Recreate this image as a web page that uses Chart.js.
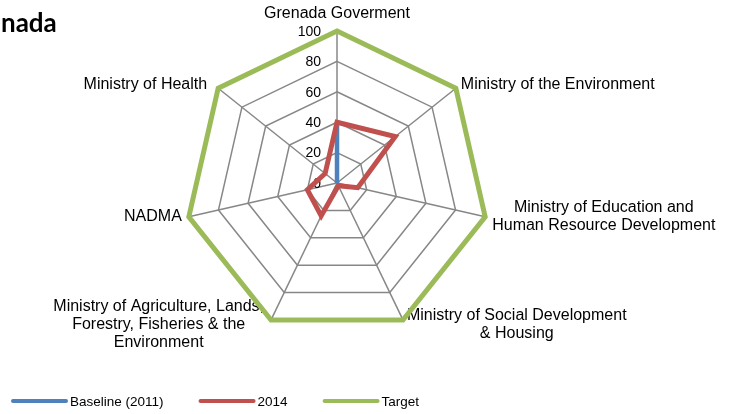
<!DOCTYPE html>
<html>
<head>
<meta charset="utf-8">
<script src="https://cdn.jsdelivr.net/npm/chart.js@4"></script>
<style>
    body { margin: 0; background: #fff; }
    #wrap { width: 732px; height: 414px; position: relative; }
</style>
</head>
<body>
<div id="wrap"><canvas id="radarChart"></canvas></div>
<script>
const categories = [
    'Grenada Goverment',
    'Ministry of the Environment',
    ['Ministry of Education and', 'Human Resource Development'],
    ['Ministry of Social Development', '& Housing'],
    ['Ministry of Agriculture, Lands,', 'Forestry, Fisheries & the', 'Environment'],
    'NADMA',
    'Ministry of Health'
];
const baseline2011 = [40, 0, 0, 0, 0, 0, 0];
const values2014 = [40, 49, 14, 2, 24, 20, 10];
const target = [100, 100, 100, 100, 100, 100, 100];
const tickValues = [0, 20, 40, 60, 80, 100];

// where each category label sits relative to its outer vertex
const labelPlacement = [
    { align: 'center', dx: 0, dy: -17 },
    { align: 'left', dx: 5, dy: -4 },
    { align: 'left', dx: 7, dy: 0 },
    { align: 'left', dx: 4, dy: 5 },
    { align: 'right', dx: -7, dy: 5 },
    { align: 'right', dx: -7, dy: 0 },
    { align: 'right', dx: -11, dy: -4 }
];

const labelFont = '16px "Liberation Sans", Arial, sans-serif';

const radarText = {
    id: 'radarText',
    beforeDatasetsDraw(chart) {
        const ctx = chart.ctx;
        const scale = chart.scales.r;
        ctx.save();
        ctx.fillStyle = '#000';
        ctx.textBaseline = 'middle';

        // category labels
        ctx.font = labelFont;
        ctx.textAlign = 'center';
        categories.forEach((label, i) => {
            const lines = Array.isArray(label) ? label : [label];
            const pos = scale.getPointPosition(i, scale.drawingArea);
            const place = labelPlacement[i];
            const w = Math.max(...lines.map(l => ctx.measureText(l).width));
            let cx = pos.x + place.dx;
            if (place.align === 'left') cx += w / 2;
            if (place.align === 'right') cx -= w / 2;
            const cy = pos.y + place.dy;
            lines.forEach((line, k) => {
                ctx.fillText(line, cx, cy + (k - (lines.length - 1) / 2) * 18);
            });
        });

        // tick labels left of the top axis
        ctx.font = '14px "Liberation Sans", Arial, sans-serif';
        ctx.textAlign = 'right';
        tickValues.forEach(v => {
            const y = scale.yCenter - scale.getDistanceFromCenterForValue(v);
            ctx.fillText(String(v), scale.xCenter - 16, y + 1);
        });
        ctx.restore();
    },
    afterDraw(chart) {
        const ctx = chart.ctx;
        ctx.save();
        // clipped title, only the end shows
        ctx.font = 'bold 26px Lato, "Open Sans", sans-serif';
        ctx.fillStyle = '#000';
        ctx.textAlign = 'right';
        ctx.textBaseline = 'alphabetic';
        ctx.fillText('Grenada', ctx.measureText('nada').width + 1, 32);

        // legend
        ctx.font = '13.5px "Liberation Sans", Arial, sans-serif';
        ctx.textAlign = 'left';
        ctx.textBaseline = 'middle';
        let x = 13;
        const y = 401;
        chart.data.datasets.forEach(ds => {
            ctx.strokeStyle = ds.borderColor;
            ctx.lineWidth = 4;
            ctx.lineCap = 'round';
            ctx.beginPath();
            ctx.moveTo(x, y);
            ctx.lineTo(x + 53, y);
            ctx.stroke();
            ctx.fillStyle = '#000';
            ctx.fillText(ds.label, x + 57, y + 1);
            x += 57 + ctx.measureText(ds.label).width + 37;
        });
        ctx.restore();
    }
};

const ctx = document.getElementById('radarChart').getContext('2d');
new Chart(ctx, {
    type: 'radar',
    data: {
        labels: categories,
        datasets: [
            {
                label: 'Baseline (2011)',
                data: baseline2011,
                borderColor: '#4F81BD',
                borderWidth: 4.5,
                pointRadius: 0,
                fill: false,
                order: 2
            },
            {
                label: '2014',
                data: values2014,
                borderColor: '#C0504D',
                borderWidth: 5,
                pointRadius: 0,
                fill: false,
                order: 1
            },
            {
                label: 'Target',
                data: target,
                borderColor: '#9BBB59',
                borderWidth: 5,
                pointRadius: 0,
                fill: false,
                order: 0
            }
        ]
    },
    options: {
        responsive: true,
        maintainAspectRatio: false,
        animation: false,
        layout: {
            padding: { top: 31, bottom: 79, left: 185, right: 243 }
        },
        plugins: {
            legend: { display: false },
            tooltip: { enabled: false }
        },
        scales: {
            r: {
                min: 0,
                max: 100,
                ticks: { stepSize: 20, display: false },
                pointLabels: { display: false },
                grid: { color: '#878787', lineWidth: 1.5 },
                angleLines: { color: '#878787', lineWidth: 1.5 }
            }
        }
    },
    plugins: [radarText]
});
</script>
</body>
</html>
